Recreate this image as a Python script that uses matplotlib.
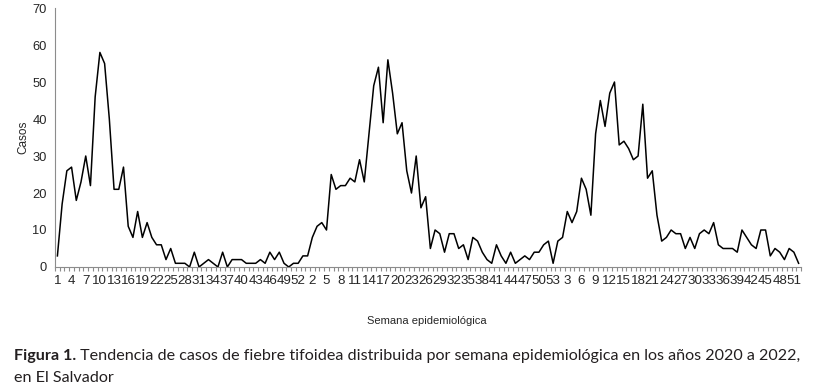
import matplotlib
matplotlib.use('Agg')
import matplotlib.pyplot as plt
import numpy as np

# casos por semana epidemiológica
casos_2020 = [3, 17, 26, 27, 18, 23, 30, 22, 46, 58, 55, 40, 21, 21, 27, 11, 8, 15, 8, 12,
              8, 6, 6, 2, 5, 1, 1, 1, 0, 4, 0, 1, 2, 1, 0, 4, 0, 2, 2, 2,
              1, 1, 1, 2, 1, 4, 2, 4, 1, 0, 1, 1, 3]
casos_2021 = [3, 8, 11, 12, 10, 25, 21, 22, 22, 24, 23, 29, 23, 36, 49, 54, 39, 56, 47, 36,
              39, 26, 20, 30, 16, 19, 5, 10, 9, 4, 9, 9, 5, 6, 2, 8, 7, 4, 2, 1,
              6, 3, 1, 4, 1, 2, 3, 2, 4, 4, 6, 7, 1]
casos_2022 = [7, 8, 15, 12, 15, 24, 21, 14, 36, 45, 38, 47, 50, 33, 34, 32, 29, 30, 44, 24,
              26, 14, 7, 8, 10, 9, 9, 5, 8, 5, 9, 10, 9, 12, 6, 5, 5, 5, 4, 10,
              8, 6, 5, 10, 10, 3, 5, 4, 2, 5, 4, 1]

semanas = (list(range(1, len(casos_2020) + 1)) + list(range(1, len(casos_2021) + 1))
           + list(range(1, len(casos_2022) + 1)))
casos = casos_2020 + casos_2021 + casos_2022
x = np.arange(len(casos))

plt.rcParams['font.family'] = ['Liberation Sans', 'DejaVu Sans']
texto = '#262626'

fig = plt.figure(figsize=(8.13, 3.9), dpi=100)
ax = fig.add_axes([0.0677, 0.3154, 0.9175, 0.664])

ax.plot(x, casos, color='black', linewidth=1.1)

ax.set_xlim(-0.5, len(casos) - 0.5)
ax.set_ylim(0, 70)
ax.set_yticks(range(0, 71, 10))

# etiquetas cada 3 semanas, marcas entre categorías
ax.set_xticks(x[::3])
ax.set_xticklabels([str(s) for s in semanas[::3]])
ax.set_xticks(np.arange(-0.5, len(casos), 1), minor=True)
ax.tick_params(axis='x', which='major', length=0, pad=6, labelsize=9.6, colors=texto)
ax.tick_params(axis='x', which='minor', length=3, width=0.8, color='#8c8c8c', direction='out')
ax.tick_params(axis='y', length=0, pad=6, labelsize=9.3, colors=texto)

for lado in ['top', 'right']:
    ax.spines[lado].set_visible(False)
ax.spines['left'].set_color('#8c8c8c')
ax.spines['bottom'].set_color('#8c8c8c')

ax.set_ylabel('Casos', fontsize=8.5, color=texto, labelpad=2)
fig.text(0.525, 0.177, 'Semana epidemiológica', fontsize=8, color=texto, ha='center', va='center')

# pie de figura
pie = '#231f20'
t1 = fig.text(0.017, 0.068, 'Figura 1.', fontsize=11.6, fontweight='bold', color=pie,
              family=['Lato', 'DejaVu Sans'], va='bottom')
ax.annotate(' Tendencia de casos de fiebre tifoidea distribuida por semana epidemiológica en los años 2020 a 2022,',
            xy=(1, 0), xycoords=t1, fontsize=11.6, color=pie, family=['Lato', 'DejaVu Sans'],
            va='bottom', ha='left', annotation_clip=False)
fig.text(0.017, 0.013, 'en El Salvador', fontsize=11.6, color=pie,
         family=['Lato', 'DejaVu Sans'], va='bottom')

fig.savefig('out.png', dpi=100)
